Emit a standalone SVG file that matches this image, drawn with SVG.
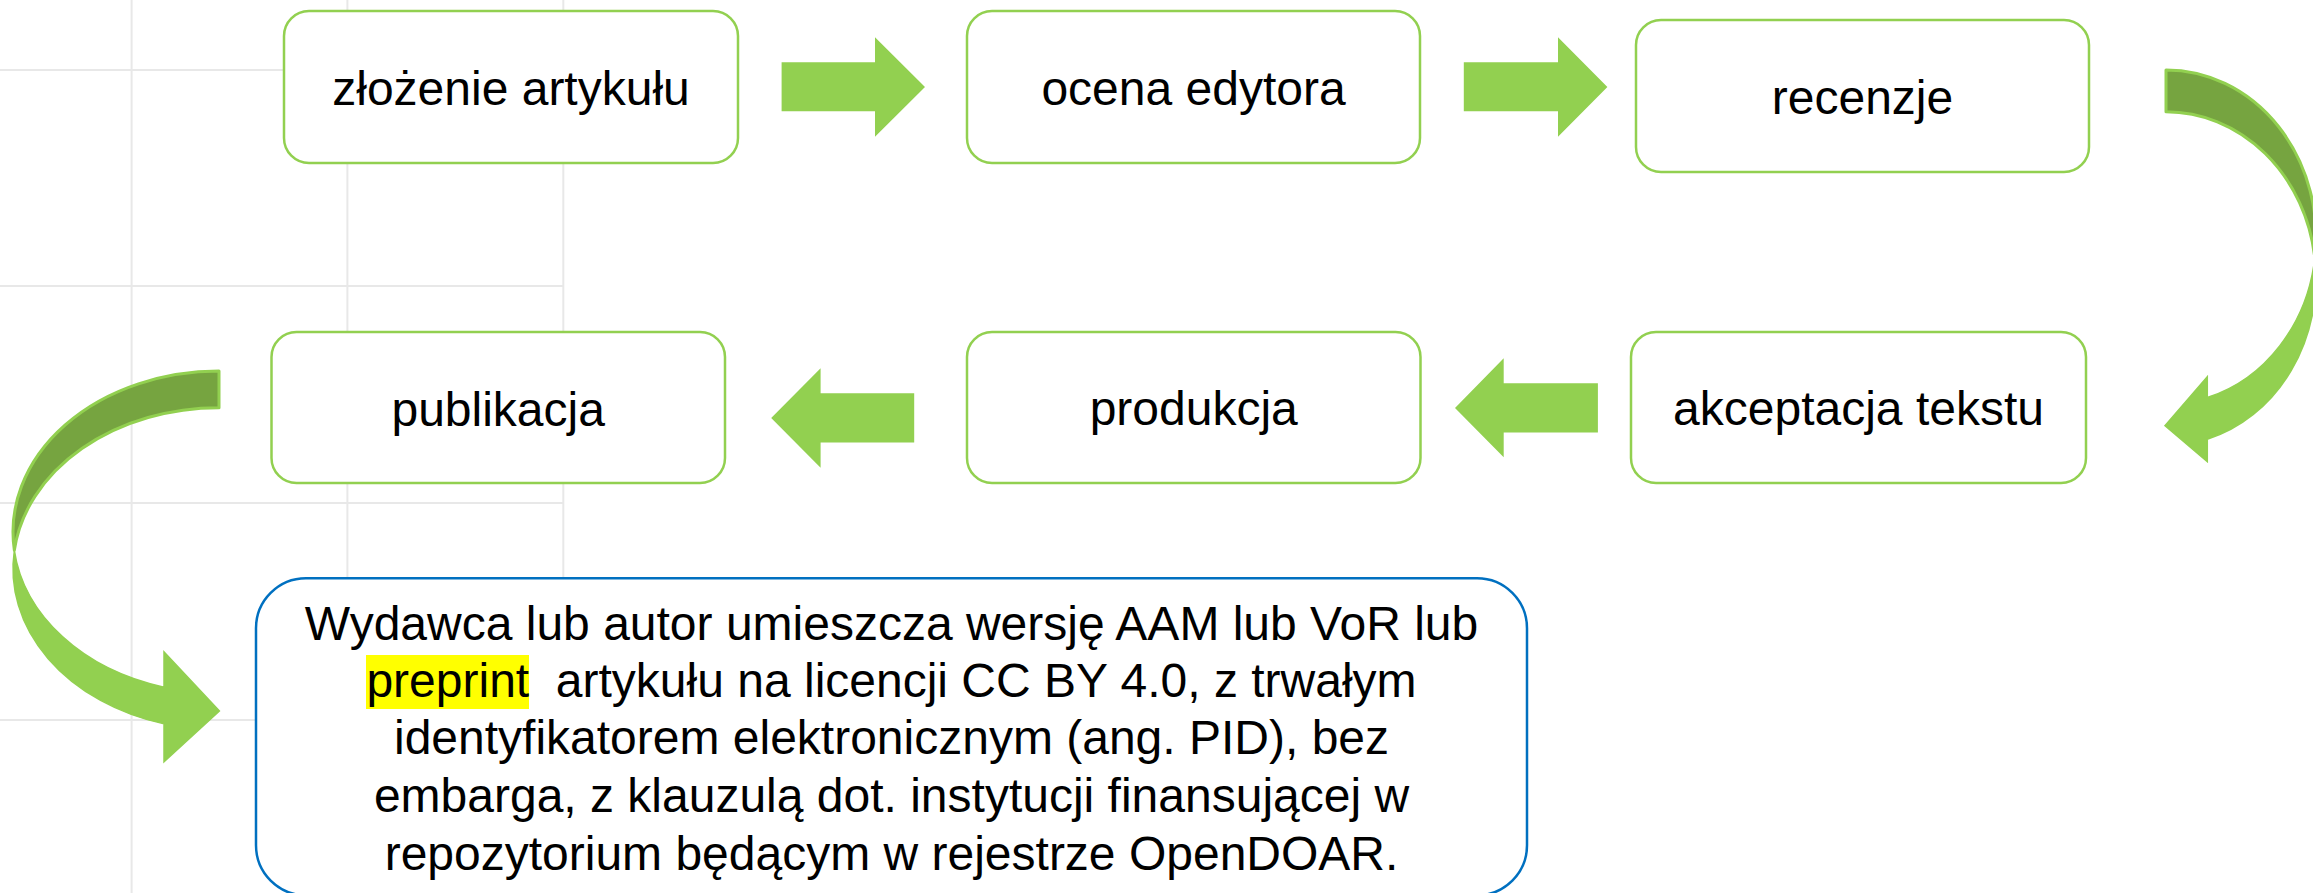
<svg xmlns="http://www.w3.org/2000/svg" width="2313" height="893" viewBox="0 0 2313 893">
<style>
.grid{stroke:#E8E8E8;stroke-width:2;fill:none}
.box{fill:#FFFFFF;stroke:#92D050;stroke-width:2.5}
.big{fill:#FFFFFF;stroke:#0070C0;stroke-width:2.5}
.lbl{font-family:"Liberation Sans",Arial,sans-serif;font-size:48px;fill:#000000;text-anchor:middle}
.arr{fill:#92D050}
.back{fill:#76A440;stroke:#92D050;stroke-width:3;stroke-linejoin:round}
.front{fill:#92D050;stroke:#92D050;stroke-width:1.5}
.hl{fill:#FFFF00}
</style>
<rect x="0" y="0" width="2313" height="893" fill="#FFFFFF"/>
<g id="grid">
<line class="grid" x1="131.6" y1="0" x2="131.6" y2="893"/>
<line class="grid" x1="347.4" y1="0" x2="347.4" y2="893"/>
<line class="grid" x1="563.3" y1="0" x2="563.3" y2="893"/>
<line class="grid" x1="0" y1="70" x2="563.3" y2="70"/>
<line class="grid" x1="0" y1="286" x2="563.3" y2="286"/>
<line class="grid" x1="0" y1="503" x2="563.3" y2="503"/>
<line class="grid" x1="0" y1="720" x2="563.3" y2="720"/>
</g>
<g id="connectors">
<polygon class="arr" points="781.6,62.3 875,62.3 875,37.3 925,87 875,136.7 875,111.3 781.6,111.3"/>
<polygon class="arr" points="1463.8,62.3 1558,62.3 1558,37.3 1607.4,87 1558,136.7 1558,111.3 1463.8,111.3"/>
<polygon class="arr" points="1597.9,383.3 1503.7,383.3 1503.7,358.3 1455,408 1503.7,457.3 1503.7,432.5 1597.9,432.5"/>
<polygon class="arr" points="914.2,393.3 820.6,393.3 820.6,368.3 771.2,418 820.6,467.7 820.6,442.5 914.2,442.5"/>
<g id="curve-right">
<path class="front" d="M2314.8,257.85 A150 167 0 0 1 2207.3,397.5 L2207.3,376.7 L2165,425.7 L2207.3,461.7 L2207.3,439.2 A150 167 0 0 0 2314.8,257.85 Z"/>
<path class="back" d="M2166,70 A150 167 0 0 1 2314.8,257.85 A150 167 0 0 0 2166,111.7 Z"/>
</g>
<g id="curve-left">
<path class="front" d="M14.34,550.35 A206 161 0 0 0 164,687.16 L164,652 L219.4,711 L164,761.7 L164,723.86 A206 161 0 0 1 14.34,550.35 Z"/>
<path class="back" d="M219,371 A206 161 0 0 0 14.34,550.35 A206 161 0 0 1 219,407.7 Z"/>
</g>
</g>
<g id="n1">
<rect class="box" x="284" y="11" width="454" height="152" rx="25" ry="25"/>
<text class="lbl" x="511" y="104.5">złożenie artykułu</text>
</g>
<g id="n2">
<rect class="box" x="967" y="11" width="453" height="152" rx="25" ry="25"/>
<text class="lbl" x="1193.5" y="104.5">ocena edytora</text>
</g>
<g id="n3">
<rect class="box" x="1636" y="20" width="453" height="152" rx="25" ry="25"/>
<text class="lbl" x="1862.5" y="113.5">recenzje</text>
</g>
<g id="n4">
<rect class="box" x="1631" y="332" width="455" height="151" rx="25" ry="25"/>
<text class="lbl" x="1858.5" y="425">akceptacja tekstu</text>
</g>
<g id="n5">
<rect class="box" x="967" y="332" width="453.5" height="151" rx="25" ry="25"/>
<text class="lbl" x="1193.7" y="425">produkcja</text>
</g>
<g id="n6">
<rect class="box" x="271.5" y="332" width="453.5" height="151" rx="25" ry="25"/>
<text class="lbl" x="498.2" y="425.5">publikacja</text>
</g>
<g id="n7">
<rect class="big" x="256" y="578.3" width="1271" height="317" rx="50" ry="50"/>
<rect class="hl" x="366" y="655" width="163" height="54"/>
<text class="lbl" x="891.5" y="639.5">Wydawca lub autor umieszcza wersję AAM lub VoR lub</text>
<text class="lbl" x="891.5" y="696.7" xml:space="preserve" style="white-space:pre">preprint  artykułu na licencji CC BY 4.0, z trwałym</text>
<text class="lbl" x="891.5" y="754">identyfikatorem elektronicznym (ang. PID), bez</text>
<text class="lbl" x="891.5" y="811.7">embarga, z klauzulą dot. instytucji finansującej w</text>
<text class="lbl" x="891.5" y="870">repozytorium będącym w rejestrze OpenDOAR.</text>
</g>
</svg>
